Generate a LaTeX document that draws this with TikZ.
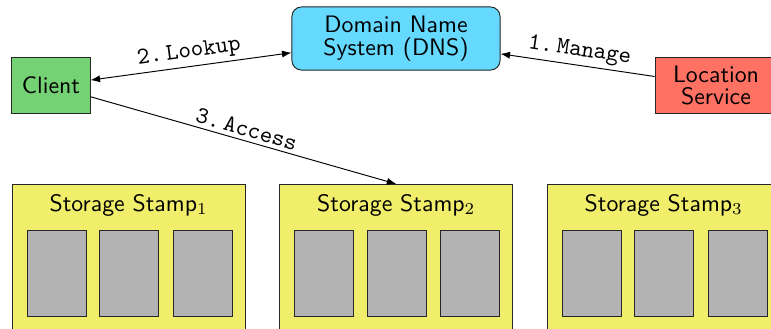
\documentclass[tikz,border=0pt]{standalone}
\usetikzlibrary{arrows.meta}
\definecolor{cgreen}{HTML}{74D274}
\definecolor{ccyan}{HTML}{66D9FF}
\definecolor{csalmon}{HTML}{FF7163}
\definecolor{cyellow}{HTML}{F0EE6A}
\definecolor{cgray}{HTML}{B3B3B3}
\tikzset{
  box/.style={draw=black!85, font=\sffamily\linespread{0.8}\selectfont, align=center, inner sep=0pt},
  stampbox/.style={draw=black!85, fill=cyellow, minimum width=98pt, minimum height=70pt, anchor=north, inner sep=0pt},
  serverbox/.style={draw=black!85, fill=cgray, minimum width=24.8pt, minimum height=36.5pt, inner sep=0pt},
  conn/.style={-{Latex[length=4pt,width=3pt]}, black},
  lab/.style={font=\ttfamily, sloped, above, inner sep=1.5pt},
}
\begin{document}
\begin{tikzpicture}[x=0.42pt, y=-0.42pt]
\clip (0,0) rectangle (771,329);
\useasboundingbox (0,0) rectangle (771,329);
% top nodes
\node[box, fill=cgreen, minimum width=32.8pt, minimum height=23.9pt] (client) at (51,85.5) {Client};
\node[box, fill=ccyan, rounded corners=4pt, minimum width=87.4pt, minimum height=26.5pt] (dns) at (396,38.5) {Domain Name\\System (DNS)};
\node[box, fill=csalmon, minimum width=51.2pt, minimum height=23.9pt] (loc) at (716,85.5) {Location\\Service};
% stamps
\node[stampbox] (stamp1) at (128.7,184) {};
\node[stampbox] (stamp2) at (396.3,184) {};
\node[stampbox] (stamp3) at (663.8,184) {};
\node[font=\sffamily] (t1) at (128.7,205) {Storage Stamp$_1$};
\node[font=\sffamily] (t2) at (396.3,205) {Storage Stamp$_2$};
\node[font=\sffamily] (t3) at (663.8,205) {Storage Stamp$_3$};
\foreach \s/\x in {1/12, 2/279.5, 3/547} {
  \node[serverbox] (s\s a) at (\x+44.5,273.5) {};
  \node[serverbox] (s\s b) at (\x+117,273.5) {};
  \node[serverbox] (s\s c) at (\x+190.5,273.5) {};
}
% connectors
\draw[conn, {Latex[length=4pt,width=3pt]}-{Latex[length=4pt,width=3pt]}] (client) -- node[lab] {2.\,Lookup} (dns);
\draw[conn] (loc) -- node[lab] {1.\,Manage} (dns);
\draw[conn] (client) -- node[lab] {3.\,Access} (stamp2.north);
\end{tikzpicture}
\end{document}
